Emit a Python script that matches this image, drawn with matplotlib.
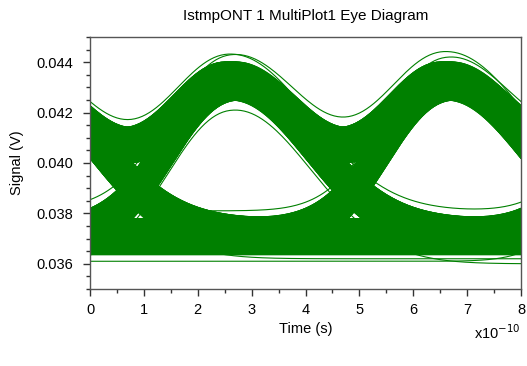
import numpy as np
import matplotlib.pyplot as plt
from matplotlib.ticker import MultipleLocator
from itertools import product

# 数据：比特序列和电平（时间单位 1e-10 s）
x_ticks = [0, 1, 2, 3, 4, 5, 6, 7, 8]
y_ticks = [0.036, 0.038, 0.040, 0.042, 0.044]
bit_centers = [-1.3, 2.7, 6.7, 10.7]
bit_patterns = [
    [0, 0, 0, 0], [0, 0, 0, 1], [0, 0, 1, 0], [0, 0, 1, 1],
    [0, 1, 0, 0], [0, 1, 0, 1], [0, 1, 1, 0], [0, 1, 1, 1],
    [1, 0, 0, 0], [1, 0, 0, 1], [1, 0, 1, 0], [1, 0, 1, 1],
    [1, 1, 0, 0], [1, 1, 0, 1], [1, 1, 1, 0], [1, 1, 1, 1],
]
low_level = 0.0371
swing = 0.0061
level_offsets = [-0.00070, -0.00064, -0.00058, -0.00052, -0.00046, -0.00040,
                 -0.00034, -0.00028, -0.00022, -0.00016, -0.00010, -0.00004,
                 0.00002, 0.00008, 0.00014, 0.00020, 0.00026, 0.00032,
                 0.00038, 0.00044, 0.00050, 0.00056, 0.00062, 0.00068]
time_jitter = [-0.08, 0.0, 0.08]
# 个别离群轨迹 (比特序列, 电平偏移)
outlier_bits = [[0, 1, 1, 0], [1, 1, 0, 1], [0, 0, 1, 1], [1, 0, 0, 0], [0, 0, 0, 1], [0, 1, 0, 0]]
outlier_offsets = [0.0011, 0.0010, 0.0010, -0.0009, -0.0010, -0.0011]

# 脉冲响应参数（上升沿 / 下降沿）
rise_s, rise_n = 1.67, 2.2
fall_s, fall_n = 2.0, 2.0


def pulse(d):
    # d < 0: 比特中心之前（上升），d > 0: 之后（下降）
    return np.where(d < 0,
                    np.exp(-(np.abs(d) / rise_s) ** rise_n),
                    np.exp(-(np.abs(d) / fall_s) ** fall_n))


def trace(bits, shift, offset, t):
    y = np.zeros_like(t)
    for b, c in zip(bits, bit_centers):
        if b:
            y += pulse(t - (c + shift))
    return low_level + swing * y + offset


t = np.linspace(0, 8, 241)

plt.rcParams['font.family'] = ['Liberation Sans', 'DejaVu Sans']
fig = plt.figure(figsize=(5.27, 3.66), dpi=100)
ax = fig.add_axes([0.1708, 0.2104, 0.8178, 0.6885])

for bits, dt, off in product(bit_patterns, time_jitter, level_offsets):
    ax.plot(t, trace(bits, dt, off, t), color='#008000', lw=0.9)
for bits, off in zip(outlier_bits, outlier_offsets):
    ax.plot(t, trace(bits, 0.0, off, t), color='#008000', lw=0.8)

ax.set_xlim(0, 8)
ax.set_ylim(0.035, 0.045)
ax.set_xticks(x_ticks)
ax.set_yticks(y_ticks)
ax.set_yticklabels([f'{v:.3f}' for v in y_ticks])
ax.xaxis.set_minor_locator(MultipleLocator(0.5))
ax.yaxis.set_minor_locator(MultipleLocator(0.0005))
ax.tick_params(which='major', length=5, width=1, color='#333333', labelsize=10.5)
ax.tick_params(axis='x', which='major', pad=5)
ax.tick_params(axis='y', which='major', pad=7)
ax.tick_params(which='minor', length=3, width=1, color='#333333')
ax.tick_params(top=False, right=False)
for s in ax.spines.values():
    s.set_color('#555555')
    s.set_linewidth(1)

ax.set_title('IstmpONT 1 MultiPlot1 Eye Diagram', fontsize=11, pad=12)
ax.set_xlabel('Time (s)', fontsize=10.5, labelpad=4)
ax.set_ylabel('Signal (V)', fontsize=10.5, labelpad=9)
ax.text(1.0, -0.135, 'x10$^{-10}$', transform=ax.transAxes, ha='right', va='top', fontsize=10.5)

fig.savefig('out.png', dpi=100)
